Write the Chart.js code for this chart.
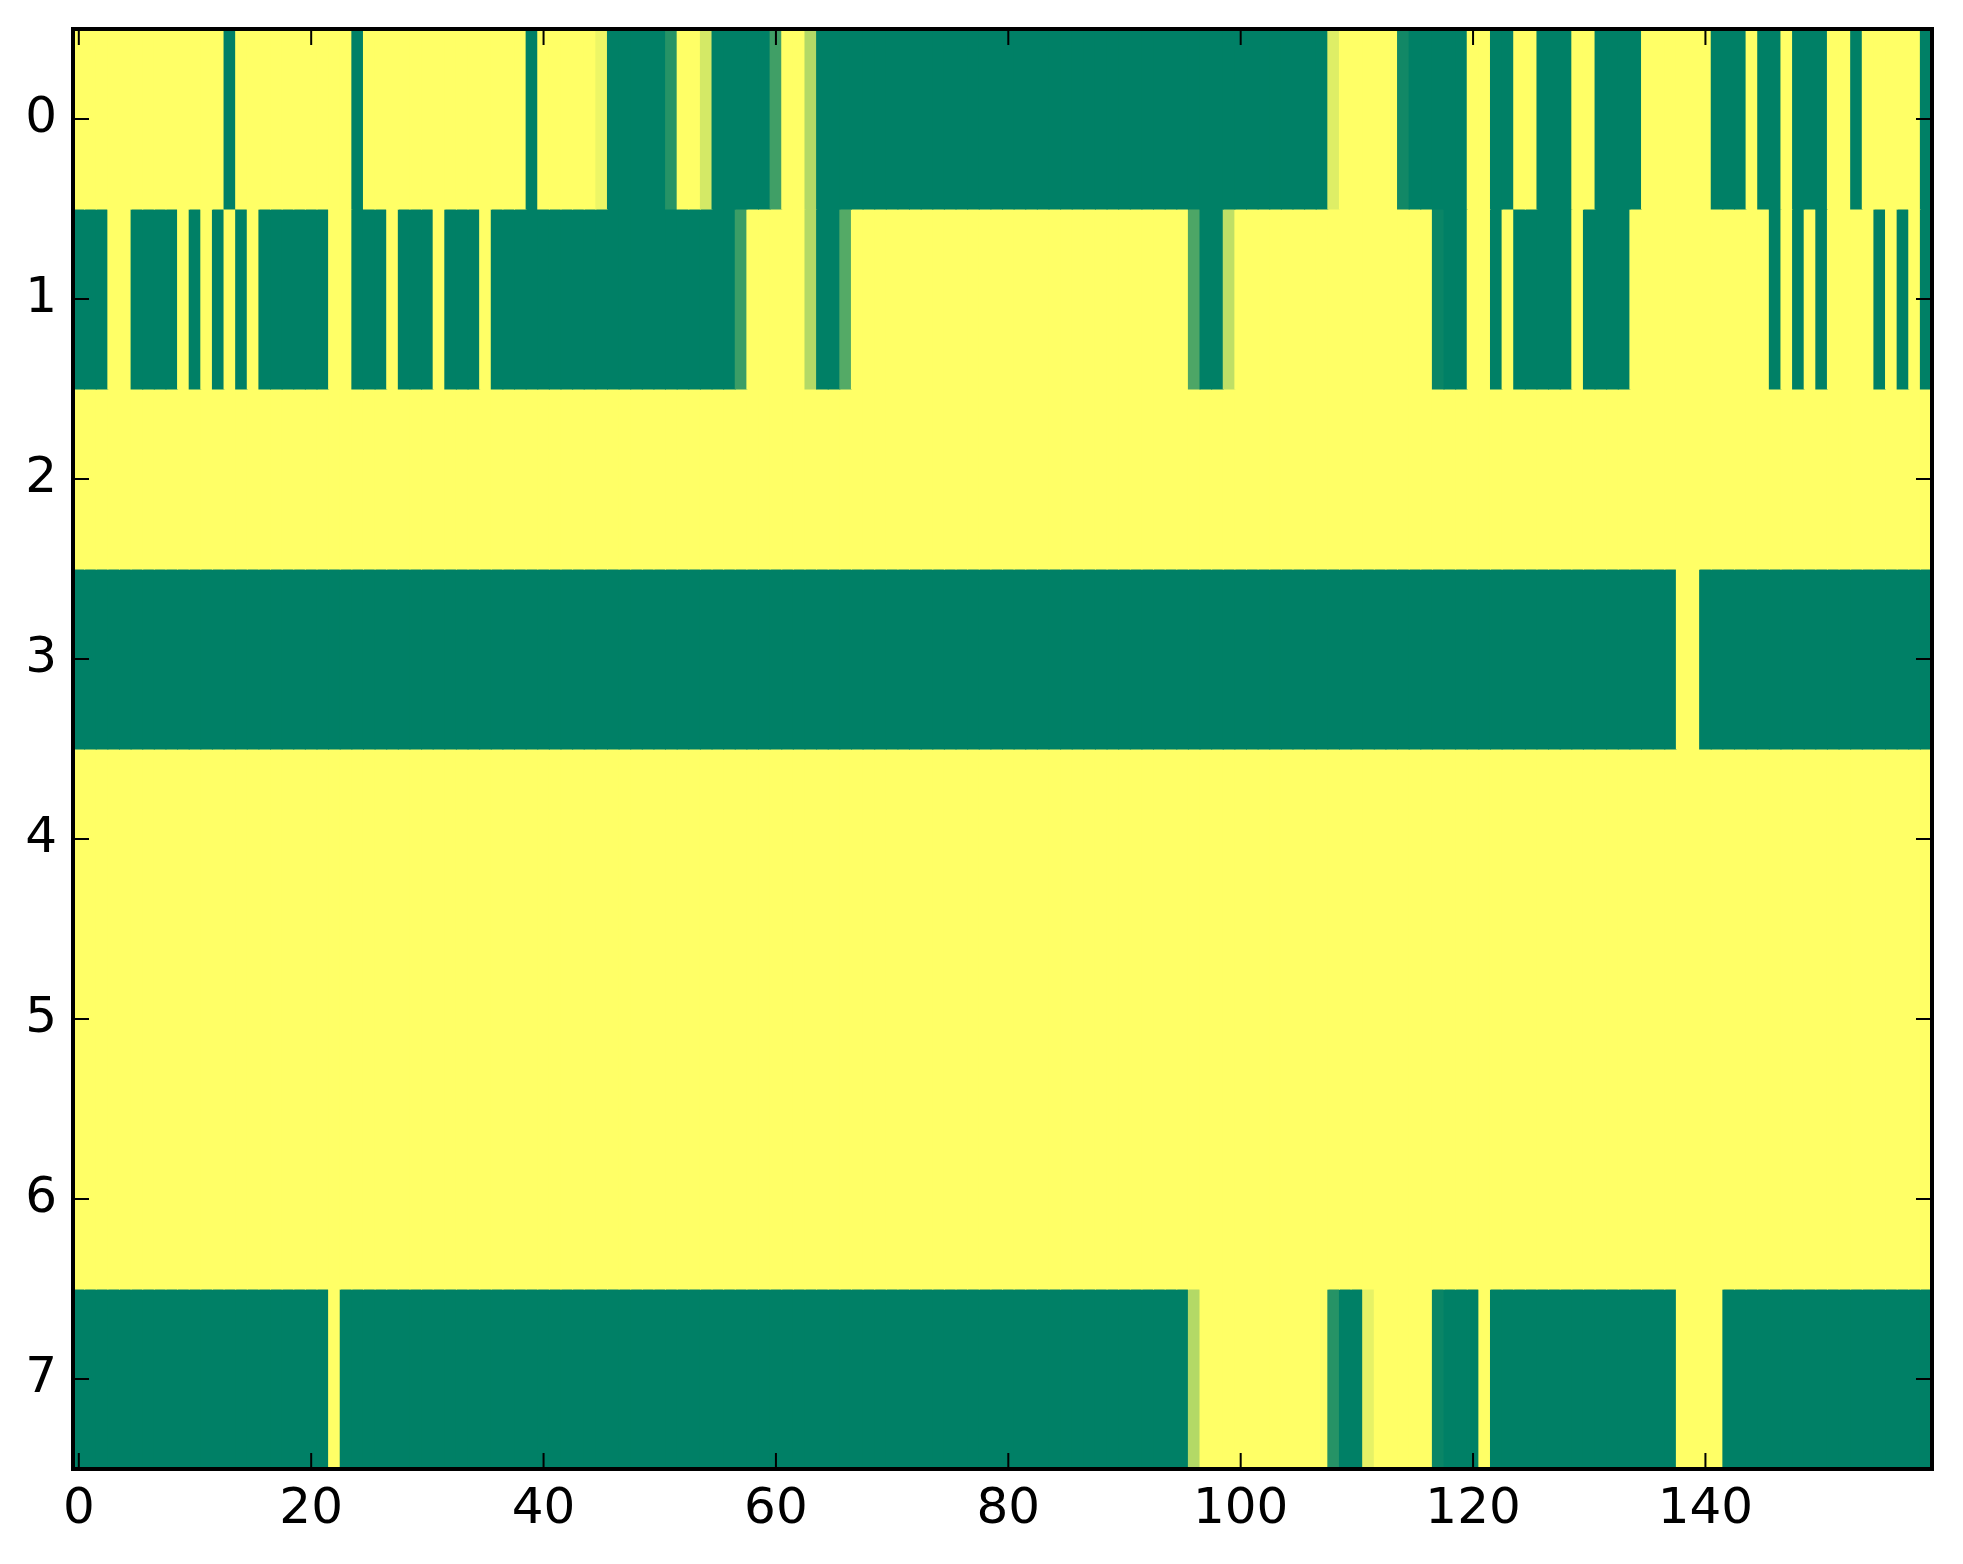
<!DOCTYPE html>
<html>
<head>
<meta charset="utf-8">
<script src="https://cdn.jsdelivr.net/npm/chart.js@4/dist/chart.umd.min.js"></script>
<style>
  html, body { margin: 0; padding: 0; background: #fff; }
  canvas { display: block; }
</style>
</head>
<body>
<canvas id="chart" width="1963" height="1564"></canvas>
<script>
// cell values (0 = dark green, 1 = yellow), one array per row, column index = position
const row0 = [
  1,1,1,1,1,1,1,1,1,1, 1,1,1,0,1,1,1,1,1,1,
  1,1,1,1,0,1,1,1,1,1, 1,1,1,1,1,1,1,1,1,0,
  1,1,1,1,1,0.93,0,0,0,0, 0,0.15,1,1,0.83,0,0,0,0,0,
  0.25,1,1,0.7,0,0,0,0,0,0, 0,0,0,0,0,0,0,0,0,0,
  0,0,0,0,0,0,0,0,0,0, 0,0,0,0,0,0,0,0,0,0,
  0,0,0,0,0,0,0,0,0.87,1, 1,1,1,1,0.07,0,0,0,0,0,
  1,1,0,0,1,1,0,0,0,1, 1,0,0,0,0,1,1,1,1,1,
  1,0,0,0,1,0,0,1,0,0, 0,1,1,0,1,1,1,1,1,0
];
const row1 = [
  0,0,0,1,1,0,0,0,0,1, 0,1,0,1,0,1,0,0,0,0,
  0,0,1,1,0,0,0,1,0,0, 0,1,0,0,0,1,0,0,0,0,
  0,0,0,0,0,0,0,0,0,0, 0,0,0,0,0,0,0,0.23,1,1,
  1,1,1,0.7,0,0,0.33,1,1,1, 1,1,1,1,1,1,1,1,1,1,
  1,1,1,1,1,1,1,1,1,1, 1,1,1,1,1,1,0.3,0,0,0.75,
  1,1,1,1,1,1,1,1,1,1, 1,1,1,1,1,1,1,0.04,0,0,
  1,1,0,1,0,0,0,0,0,1, 0,0,0,0,1,1,1,1,1,1,
  1,1,1,1,1,1,0,1,0,1, 0,1,1,1,1,0,1,0,1,0
];
const row2 = [
  1,1,1,1,1,1,1,1,1,1, 1,1,1,1,1,1,1,1,1,1,
  1,1,1,1,1,1,1,1,1,1, 1,1,1,1,1,1,1,1,1,1,
  1,1,1,1,1,1,1,1,1,1, 1,1,1,1,1,1,1,1,1,1,
  1,1,1,1,1,1,1,1,1,1, 1,1,1,1,1,1,1,1,1,1,
  1,1,1,1,1,1,1,1,1,1, 1,1,1,1,1,1,1,1,1,1,
  1,1,1,1,1,1,1,1,1,1, 1,1,1,1,1,1,1,1,1,1,
  1,1,1,1,1,1,1,1,1,1, 1,1,1,1,1,1,1,1,1,1,
  1,1,1,1,1,1,1,1,1,1, 1,1,1,1,1,1,1,1,1,1
];
const row3 = [
  0,0,0,0,0,0,0,0,0,0, 0,0,0,0,0,0,0,0,0,0,
  0,0,0,0,0,0,0,0,0,0, 0,0,0,0,0,0,0,0,0,0,
  0,0,0,0,0,0,0,0,0,0, 0,0,0,0,0,0,0,0,0,0,
  0,0,0,0,0,0,0,0,0,0, 0,0,0,0,0,0,0,0,0,0,
  0,0,0,0,0,0,0,0,0,0, 0,0,0,0,0,0,0,0,0,0,
  0,0,0,0,0,0,0,0,0,0, 0,0,0,0,0,0,0,0,0,0,
  0,0,0,0,0,0,0,0,0,0, 0,0,0,0,0,0,0,0,1,1,
  0,0,0,0,0,0,0,0,0,0, 0,0,0,0,0,0,0,0,0,0
];
const row4 = [
  1,1,1,1,1,1,1,1,1,1, 1,1,1,1,1,1,1,1,1,1,
  1,1,1,1,1,1,1,1,1,1, 1,1,1,1,1,1,1,1,1,1,
  1,1,1,1,1,1,1,1,1,1, 1,1,1,1,1,1,1,1,1,1,
  1,1,1,1,1,1,1,1,1,1, 1,1,1,1,1,1,1,1,1,1,
  1,1,1,1,1,1,1,1,1,1, 1,1,1,1,1,1,1,1,1,1,
  1,1,1,1,1,1,1,1,1,1, 1,1,1,1,1,1,1,1,1,1,
  1,1,1,1,1,1,1,1,1,1, 1,1,1,1,1,1,1,1,1,1,
  1,1,1,1,1,1,1,1,1,1, 1,1,1,1,1,1,1,1,1,1
];
const row5 = [
  1,1,1,1,1,1,1,1,1,1, 1,1,1,1,1,1,1,1,1,1,
  1,1,1,1,1,1,1,1,1,1, 1,1,1,1,1,1,1,1,1,1,
  1,1,1,1,1,1,1,1,1,1, 1,1,1,1,1,1,1,1,1,1,
  1,1,1,1,1,1,1,1,1,1, 1,1,1,1,1,1,1,1,1,1,
  1,1,1,1,1,1,1,1,1,1, 1,1,1,1,1,1,1,1,1,1,
  1,1,1,1,1,1,1,1,1,1, 1,1,1,1,1,1,1,1,1,1,
  1,1,1,1,1,1,1,1,1,1, 1,1,1,1,1,1,1,1,1,1,
  1,1,1,1,1,1,1,1,1,1, 1,1,1,1,1,1,1,1,1,1
];
const row6 = [
  1,1,1,1,1,1,1,1,1,1, 1,1,1,1,1,1,1,1,1,1,
  1,1,1,1,1,1,1,1,1,1, 1,1,1,1,1,1,1,1,1,1,
  1,1,1,1,1,1,1,1,1,1, 1,1,1,1,1,1,1,1,1,1,
  1,1,1,1,1,1,1,1,1,1, 1,1,1,1,1,1,1,1,1,1,
  1,1,1,1,1,1,1,1,1,1, 1,1,1,1,1,1,1,1,1,1,
  1,1,1,1,1,1,1,1,1,1, 1,1,1,1,1,1,1,1,1,1,
  1,1,1,1,1,1,1,1,1,1, 1,1,1,1,1,1,1,1,1,1,
  1,1,1,1,1,1,1,1,1,1, 1,1,1,1,1,1,1,1,1,1
];
const row7 = [
  0,0,0,0,0,0,0,0,0,0, 0,0,0,0,0,0,0,0,0,0,
  0,0,1,0,0,0,0,0,0,0, 0,0,0,0,0,0,0,0,0,0,
  0,0,0,0,0,0,0,0,0,0, 0,0,0,0,0,0,0,0,0,0,
  0,0,0,0,0,0,0,0,0,0, 0,0,0,0,0,0,0,0,0,0,
  0,0,0,0,0,0,0,0,0,0, 0,0,0,0,0,0,0.7,1,1,1,
  1,1,1,1,1,1,1,1,0.15,0, 0,0.9,1,1,1,1,1,0.04,0,0,
  0,1,0,0,0,0,0,0,0,0, 0,0,0,0,0,0,0,0,1,1,
  1,1,0,0,0,0,0,0,0,0, 0,0,0,0,0,0,0,0,0,0
];
const rows = [row0, row1, row2, row3, row4, row5, row6, row7];

const xTickValues = [0, 20, 40, 60, 80, 100, 120, 140];
const yTickValues = [0, 1, 2, 3, 4, 5, 6, 7];

// matplotlib "summer" colormap
function summer(v) {
  const r = Math.round(255 * v);
  const g = Math.round(127.5 + 127.5 * v);
  return `rgb(${r}, ${g}, 102)`;
}

const datasets = rows.map((vals, r) => ({
  label: 'row ' + r,
  data: vals.map((v, c) => ({ x: c, y: [r - 0.5, r + 0.5], v: v })),
  backgroundColor: (ctx) => summer(ctx.raw ? ctx.raw.v : 0),
  borderWidth: 0,
  inflateAmount: 0.5,
  grouped: false,
  barPercentage: 1,
  categoryPercentage: 1,
}));

// frame and inward ticks on all four sides, like the matplotlib classic style
const frameTicks = {
  id: 'frameTicks',
  afterDraw(chart) {
    const { ctx, chartArea: a, scales: { x, y } } = chart;
    const len = 16;
    ctx.save();
    ctx.strokeStyle = '#000';
    ctx.lineWidth = 2;
    ctx.beginPath();
    xTickValues.forEach((v) => {
      const px = x.getPixelForValue(v);
      ctx.moveTo(px, a.bottom);
      ctx.lineTo(px, a.bottom - len);
      ctx.moveTo(px, a.top);
      ctx.lineTo(px, a.top + len);
    });
    yTickValues.forEach((v) => {
      const py = y.getPixelForValue(v);
      ctx.moveTo(a.left, py);
      ctx.lineTo(a.left + len, py);
      ctx.moveTo(a.right, py);
      ctx.lineTo(a.right - len, py);
    });
    ctx.stroke();
    ctx.lineWidth = 4;
    ctx.strokeRect(a.left, a.top, a.right - a.left, a.bottom - a.top);
    ctx.restore();
  }
};

const tickFont = { family: 'DejaVu Sans', size: 50 };

new Chart(document.getElementById('chart').getContext('2d'), {
  type: 'bar',
  data: { datasets },
  options: {
    responsive: false,
    animation: false,
    devicePixelRatio: 1,
    layout: { padding: { left: 0, top: 29, right: 31, bottom: 0 } },
    scales: {
      x: {
        type: 'linear',
        offset: false,
        min: -0.5,
        max: 159.5,
        grid: { display: false, drawTicks: false, offset: false },
        border: { display: false },
        ticks: {
          font: tickFont,
          color: '#000',
          padding: 11,
          maxRotation: 0,
          autoSkip: false,
          callback: (v) => String(v),
        },
        afterBuildTicks: (scale) => {
          scale.ticks = xTickValues.map((v) => ({ value: v }));
        },
        afterFit: (scale) => {
          scale.height = 95;
          scale.paddingLeft = 0;
          scale.paddingRight = 0;
        },
      },
      y: {
        type: 'linear',
        offset: false,
        min: -0.5,
        max: 7.5,
        reverse: true,
        grid: { display: false, drawTicks: false },
        border: { display: false },
        ticks: {
          font: tickFont,
          color: '#000',
          padding: 16,
          autoSkip: false,
          callback: (v) => String(v),
        },
        afterBuildTicks: (scale) => {
          scale.ticks = yTickValues.map((v) => ({ value: v }));
        },
        afterFit: (scale) => {
          scale.width = 73;
          scale.paddingTop = 0;
          scale.paddingBottom = 0;
        },
      },
    },
    plugins: {
      legend: { display: false },
      tooltip: { enabled: false },
    },
  },
  plugins: [frameTicks],
});
</script>
</body>
</html>
